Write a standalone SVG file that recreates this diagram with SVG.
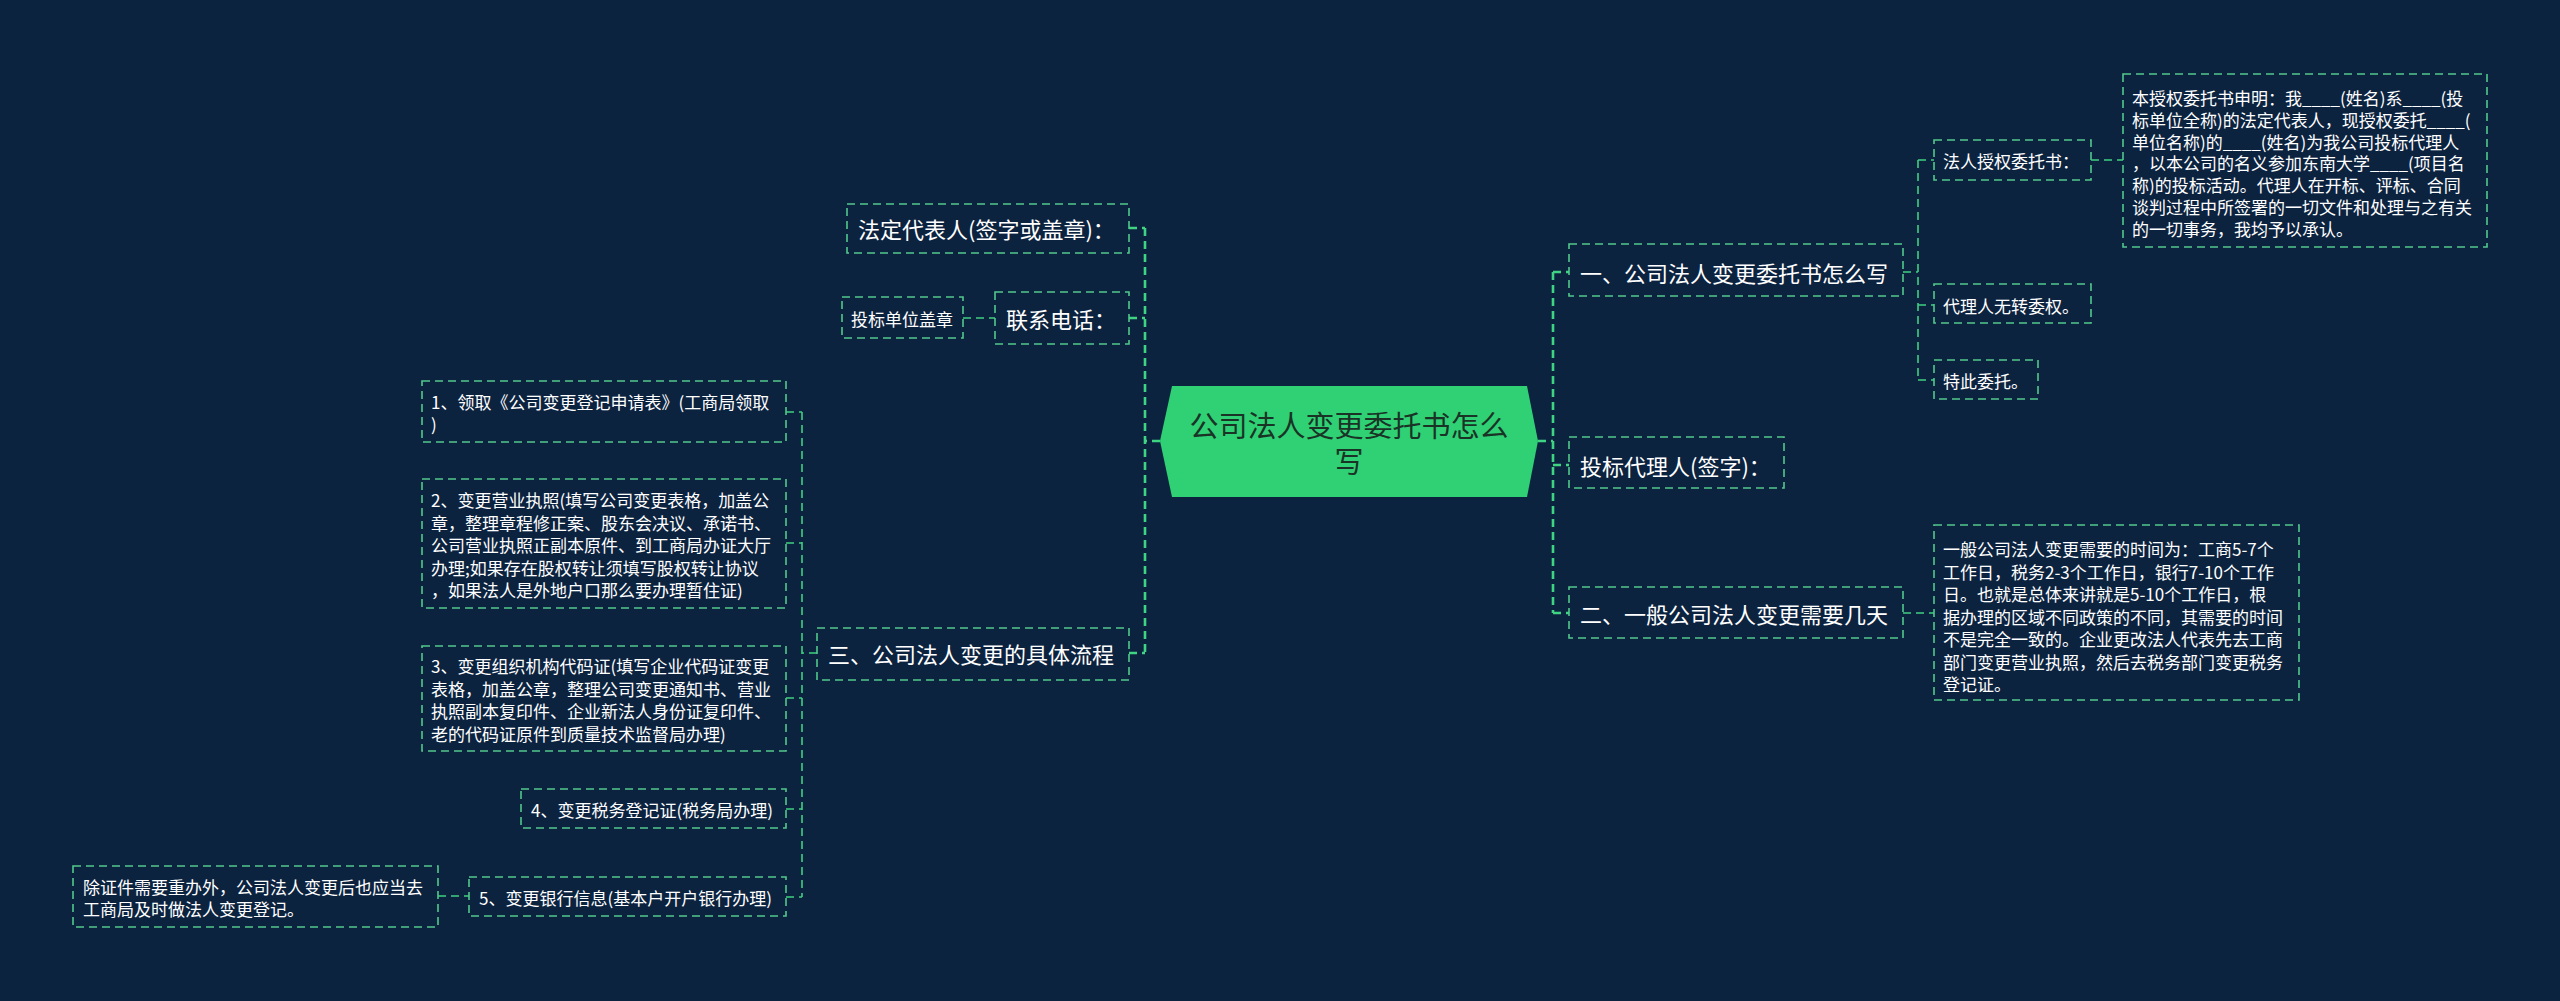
<svg xmlns="http://www.w3.org/2000/svg" width="2560" height="1001" viewBox="0 0 2560 1001">
<style>
.bg{fill:#0c2340}
.box{fill:none;stroke:#52c98c;stroke-width:1.6;stroke-dasharray:8 5}
.t{fill:#ffffff;font-family:"Noto Sans CJK SC","Noto Sans",sans-serif;dominant-baseline:central}
.f22{font-size:22px}
.f17{font-size:17px}
.lk{fill:none;stroke:#3fcf80;stroke-width:1.6;stroke-dasharray:8 5}
.lk1{fill:none;stroke:#3fd482;stroke-width:2.6;stroke-dasharray:8 5}
.ct{fill:#1a3326;font-family:"Noto Sans CJK SC","Noto Sans",sans-serif;font-size:29px;text-anchor:middle;dominant-baseline:central}
</style>
<rect class="bg" x="0" y="0" width="2560" height="1001"/>

<g id="connectors">
  <path class="lk1" d="M1160,441 H1145 M1145,228 V653 M1129,228 H1145 M1129,318 H1145 M1129,653 H1145"/>
  <path class="lk" d="M963,318 H995"/>
  <path class="lk" d="M817,653 H802 M802,412 V897 M786,412 H802 M786,543 H802 M786,698 H802 M786,809 H802 M786,897 H802"/>
  <path class="lk" d="M438,896 H469"/>
  <path class="lk1" d="M1538,441 H1553 M1553,272 V613 M1553,272 H1569 M1553,465 H1569 M1553,613 H1569"/>
  <path class="lk" d="M1903,272 H1918 M1918,160 V380 M1918,160 H1934 M1918,305 H1934 M1918,380 H1934"/>
  <path class="lk" d="M2091,160 H2123"/>
  <path class="lk" d="M1903,613 H1934"/>
</g>

<g id="center">
  <polygon points="1160,441 1172,386 1527,386 1538,441 1527,497 1172,497" fill="#2fd174"/>
  <text class="ct"><tspan x="1349" y="424">公司法人变更委托书怎么</tspan><tspan x="1349" y="460">写</tspan></text>
</g>

<g id="n-fadingdaibiaoren">
  <rect class="box" x="847" y="204" width="282" height="49"/>
  <text class="t f22" x="858" y="228">法定代表人(签字或盖章)：</text>
</g>
<g id="n-lianxidianhua">
  <rect class="box" x="995" y="292" width="134" height="52"/>
  <text class="t f22" x="1006" y="318">联系电话：</text>
</g>
<g id="n-toubiaodanweigaizhang">
  <rect class="box" x="842" y="297" width="121" height="41"/>
  <text class="t f17" x="851" y="318">投标单位盖章</text>
</g>
<g id="n-san">
  <rect class="box" x="817" y="628" width="312" height="52"/>
  <text class="t f22" x="828" y="653">三、公司法人变更的具体流程</text>
</g>
<g id="n-step1">
  <rect class="box" x="422" y="381" width="364" height="61"/>
  <text class="t f17"><tspan x="431" y="401">1、领取《公司变更登记申请表》(工商局领取</tspan><tspan x="431" y="423">)</tspan></text>
</g>
<g id="n-step2">
  <rect class="box" x="422" y="479" width="364" height="129"/>
  <text class="t f17"><tspan x="431" y="499">2、变更营业执照(填写公司变更表格，加盖公</tspan><tspan x="431" y="521.5">章，整理章程修正案、股东会决议、承诺书、</tspan><tspan x="431" y="544">公司营业执照正副本原件、到工商局办证大厅</tspan><tspan x="431" y="566.5">办理;如果存在股权转让须填写股权转让协议</tspan><tspan x="431" y="589">，如果法人是外地户口那么要办理暂住证)</tspan></text>
</g>
<g id="n-step3">
  <rect class="box" x="422" y="646" width="364" height="105"/>
  <text class="t f17"><tspan x="431" y="665">3、变更组织机构代码证(填写企业代码证变更</tspan><tspan x="431" y="687.5">表格，加盖公章，整理公司变更通知书、营业</tspan><tspan x="431" y="710">执照副本复印件、企业新法人身份证复印件、</tspan><tspan x="431" y="732.5">老的代码证原件到质量技术监督局办理)</tspan></text>
</g>
<g id="n-step4">
  <rect class="box" x="521" y="789" width="265" height="39"/>
  <text class="t f17" x="531" y="809">4、变更税务登记证(税务局办理)</text>
</g>
<g id="n-step5">
  <rect class="box" x="469" y="877" width="317" height="39"/>
  <text class="t f17" x="479" y="897">5、变更银行信息(基本户开户银行办理)</text>
</g>
<g id="n-step5-note">
  <rect class="box" x="73" y="866" width="365" height="61"/>
  <text class="t f17"><tspan x="83" y="886">除证件需要重办外，公司法人变更后也应当去</tspan><tspan x="83" y="908">工商局及时做法人变更登记。</tspan></text>
</g>

<g id="n-yi">
  <rect class="box" x="1569" y="244" width="334" height="52"/>
  <text class="t f22" x="1580" y="272">一、公司法人变更委托书怎么写</text>
</g>
<g id="n-toubiaodailiren">
  <rect class="box" x="1569" y="437" width="215" height="51"/>
  <text class="t f22" x="1580" y="465">投标代理人(签字)：</text>
</g>
<g id="n-er">
  <rect class="box" x="1569" y="587" width="334" height="51"/>
  <text class="t f22" x="1580" y="613">二、一般公司法人变更需要几天</text>
</g>
<g id="n-farenshouquan">
  <rect class="box" x="1934" y="140" width="157" height="40"/>
  <text class="t f17" x="1943" y="160">法人授权委托书：</text>
</g>
<g id="n-shouquan-text">
  <rect class="box" x="2123" y="74" width="364" height="173"/>
  <text class="t f17"><tspan x="2132" y="97">本授权委托书申明：我____(姓名)系____(投</tspan><tspan x="2132" y="118.8">标单位全称)的法定代表人，现授权委托____(</tspan><tspan x="2132" y="140.6">单位名称)的____(姓名)为我公司投标代理人</tspan><tspan x="2132" y="162.4">，以本公司的名义参加东南大学____(项目名</tspan><tspan x="2132" y="184.2">称)的投标活动。代理人在开标、评标、合同</tspan><tspan x="2132" y="206">谈判过程中所签署的一切文件和处理与之有关</tspan><tspan x="2132" y="227.8">的一切事务，我均予以承认。</tspan></text>
</g>
<g id="n-wuzhuanweiquan">
  <rect class="box" x="1934" y="284" width="157" height="39"/>
  <text class="t f17" x="1943" y="305">代理人无转委权。</text>
</g>
<g id="n-tecieweituo">
  <rect class="box" x="1934" y="360" width="104" height="39"/>
  <text class="t f17" x="1943" y="380">特此委托。</text>
</g>
<g id="n-er-text">
  <rect class="box" x="1934" y="525" width="365" height="175"/>
  <text class="t f17"><tspan x="1943" y="548">一般公司法人变更需要的时间为：工商5-7个</tspan><tspan x="1943" y="570.5">工作日，税务2-3个工作日，银行7-10个工作</tspan><tspan x="1943" y="593">日。也就是总体来讲就是5-10个工作日，根</tspan><tspan x="1943" y="615.5">据办理的区域不同政策的不同，其需要的时间</tspan><tspan x="1943" y="638">不是完全一致的。企业更改法人代表先去工商</tspan><tspan x="1943" y="660.5">部门变更营业执照，然后去税务部门变更税务</tspan><tspan x="1943" y="683">登记证。</tspan></text>
</g>
</svg>
